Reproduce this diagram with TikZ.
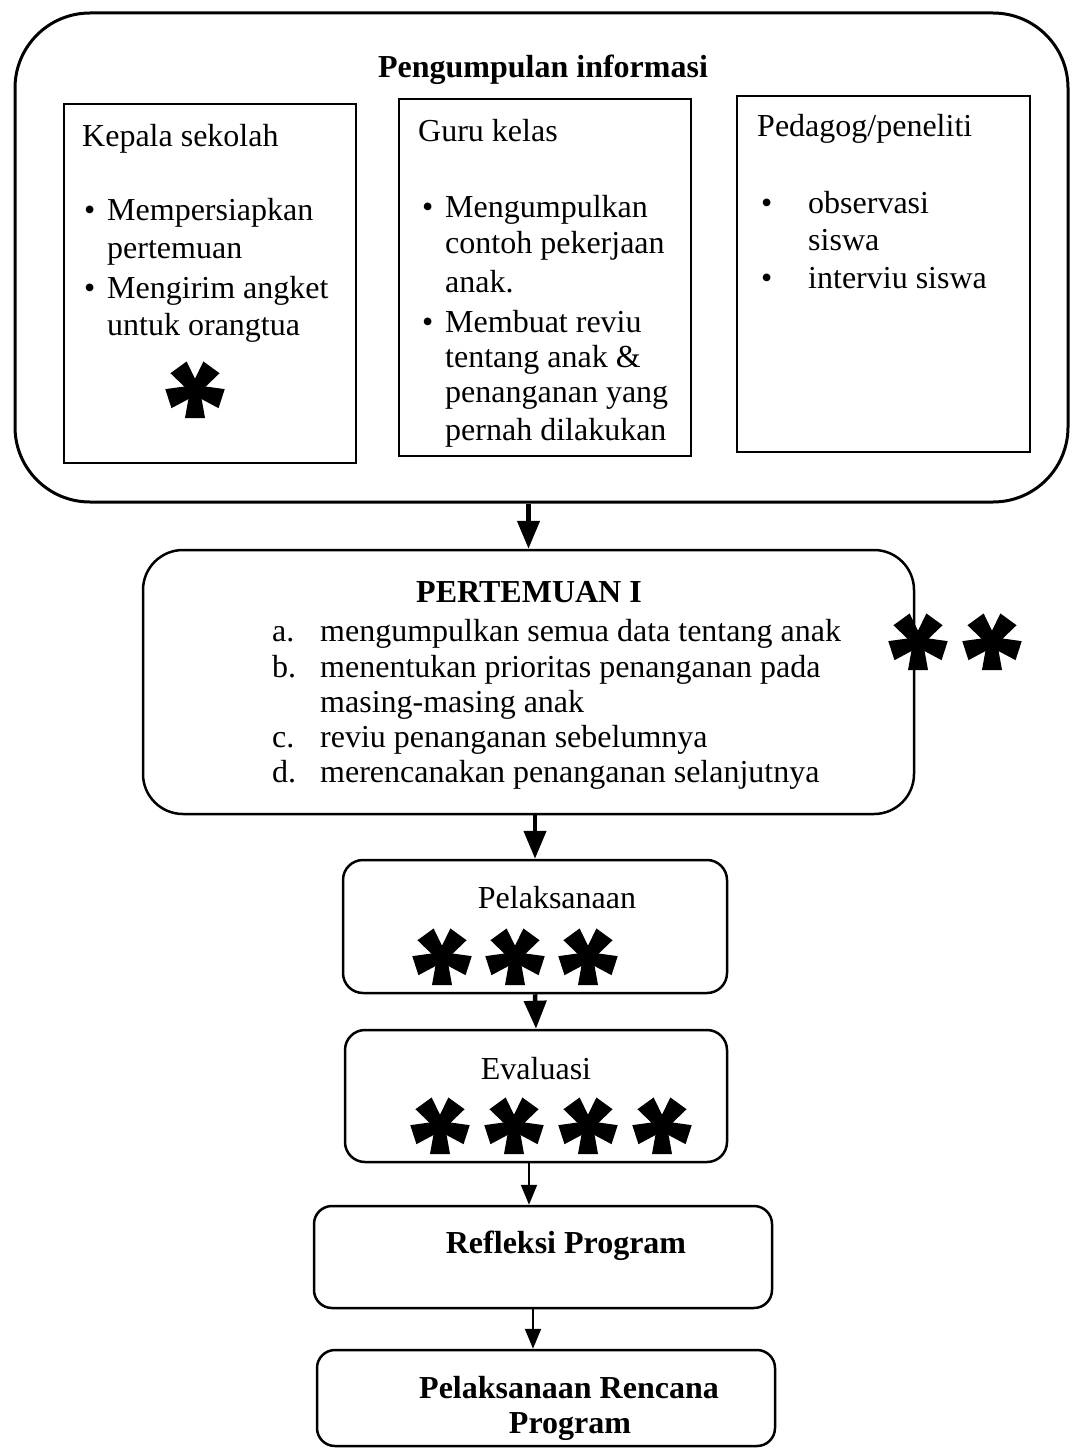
\documentclass[tikz,border=0pt]{standalone}
\usepackage{fontspec}
\setmainfont{Liberation Serif}
\usetikzlibrary{arrows.meta}

\begin{document}
\begin{tikzpicture}[x=1pt, y=-1pt,
  bigbox/.style={draw=black, line width=3pt, rounded corners=75pt, minimum width=1053pt, minimum height=489pt},
  subbox/.style={draw=black, line width=2.5pt},
  flowbox/.style={draw=black, line width=2.5pt},
  txt/.style={inner sep=0pt, anchor=base west, font=\fontsize{32}{36}\selectfont},
  ctxt/.style={inner sep=0pt, anchor=base, font=\fontsize{32}{36}\selectfont},
  btxt/.style={inner sep=0pt, anchor=base, font=\fontsize{32}{36}\selectfont\bfseries},
  bigarrow/.style={line width=4.5pt, -{Triangle[width=22pt,length=28pt]}},
  smallarrow/.style={line width=2pt, -{Triangle[width=16pt,length=20pt]}},
  starmark/.pic={
    \fill[black] (0,0) circle (6);
    \foreach \a in {-90,-18,-162,54,126}
      \fill[black, rotate=\a] (0,-5) -- (28,-10) -- (28,10) -- (0,5) -- cycle;
  }]
\useasboundingbox (0,0) rectangle (1072,1450);

\node[bigbox] (info) at (541.5,257.5) {};
\node[btxt] (infotitle) at (543,78) {Pengumpulan informasi};

\node[subbox, minimum width=292pt, minimum height=359pt] (kepsek) at (210,283.5) {};
\node[subbox, minimum width=292pt, minimum height=357pt] (guru) at (545,277.5) {};
\node[subbox, minimum width=293pt, minimum height=356pt] (peneliti) at (883.5,274) {};

\node[txt] (kepsektitle) at (82,147) {Kepala sekolah};
\node[txt] (kbul1) at (84,220) {•};
\node[txt] (k1) at (107,220) {Mempersiapkan};
\node[txt] (k2) at (107,258) {pertemuan};
\node[txt] (kbul2) at (84,298) {•};
\node[txt] (k3) at (107,298) {Mengirim angket};
\node[txt] (k4) at (107,335) {untuk orangtua};
\pic at (195,390) {starmark};

\node[txt] (gurutitle) at (418,142) {Guru kelas};
\node[txt] (gbul1) at (422,217) {•};
\node[txt] (g1) at (445,217) {Mengumpulkan};
\node[txt] (g2) at (445,253) {contoh pekerjaan};
\node[txt] (g3) at (445,292) {anak.};
\node[txt] (gbul2) at (422,332) {•};
\node[txt] (g4) at (445,332) {Membuat reviu};
\node[txt] (g5) at (445,367) {tentang anak \&};
\node[txt] (g6) at (445,402) {penanganan yang};
\node[txt] (g7) at (445,440) {pernah dilakukan};

\node[txt] (penelititle) at (757,137) {Pedagog/peneliti};
\node[txt] (pbul1) at (761,213) {•};
\node[txt] (p1) at (808,213) {observasi};
\node[txt] (p2) at (808,250) {siswa};
\node[txt] (pbul2) at (761,288) {•};
\node[txt] (p3) at (808,288) {interviu siswa};

\node[flowbox, rounded corners=40pt, minimum width=771pt, minimum height=264pt] (meet) at (528.5,682) {};
\node[btxt] (meettitle) at (529,602) {PERTEMUAN I};
\node[txt] (ma) at (272,641) {a.};
\node[txt] (mb) at (272,677) {b.};
\node[txt] (mc) at (272,747) {c.};
\node[txt] (md) at (272,782) {d.};
\node[txt] (m1) at (320,641) {mengumpulkan semua data tentang anak};
\node[txt] (m2) at (320,677) {menentukan prioritas penanganan pada};
\node[txt] (m3) at (320,712) {masing-masing anak};
\node[txt] (m4) at (320,747) {reviu penanganan sebelumnya};
\node[txt] (m5) at (320,782) {merencanakan penanganan selanjutnya};
\pic at (918,642) {starmark};
\pic at (992,642) {starmark};

\node[flowbox, rounded corners=20pt, minimum width=384pt, minimum height=133pt] (exec) at (535,926.5) {};
\node[ctxt] (exectitle) at (557,908) {Pelaksanaan};
\pic at (442,957) {starmark};
\pic at (515,957) {starmark};
\pic at (588,957) {starmark};

\node[flowbox, rounded corners=20pt, minimum width=382pt, minimum height=132pt] (eval) at (536,1096) {};
\node[ctxt] (evaltitle) at (536,1079) {Evaluasi};
\pic at (440,1126) {starmark};
\pic at (514,1126) {starmark};
\pic at (588,1126) {starmark};
\pic at (662,1126) {starmark};

\node[flowbox, rounded corners=18pt, minimum width=458pt, minimum height=102pt] (refl) at (543,1257) {};
\node[btxt] (refltitle) at (566,1253) {Refleksi Program};

\node[flowbox, rounded corners=18pt, minimum width=458pt, minimum height=96pt] (plan) at (546,1398) {};
\node[btxt] (plantitle1) at (569,1398) {Pelaksanaan Rencana};
\node[btxt] (plantitle2) at (570,1433) {Program};

\draw[bigarrow] (info.south -| meet.north) -- (meet.north);
\draw[bigarrow] (meet.south -| exec.north) -- (exec.north);
\draw[bigarrow] (exec.south) -- (eval.north);
\draw[smallarrow] ([xshift=-7pt]eval.south) -- ([xshift=-7pt]eval.south |- refl.north);
\draw[smallarrow] ([xshift=-10pt]refl.south) -- ([xshift=-10pt]refl.south |- plan.north);
\end{tikzpicture}
\end{document}
